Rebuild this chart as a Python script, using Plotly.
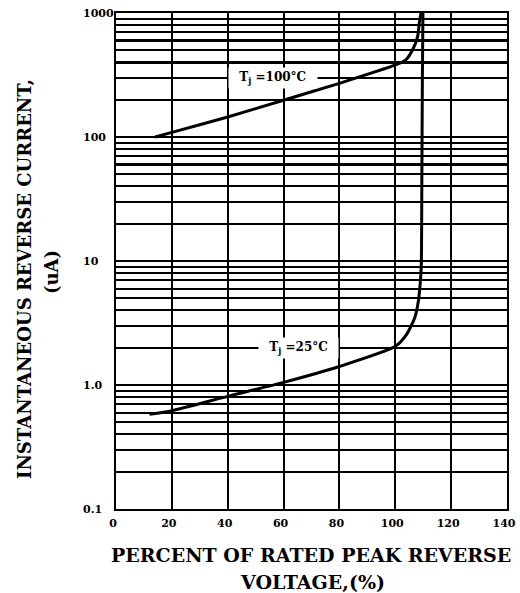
import numpy as np
import plotly.graph_objects as go

# ---- data ----
x_tick_vals = [0, 20, 40, 60, 80, 100, 120, 140]
x_tick_text = ["0", "20", "40", "60", "80", "100", "120", "140"]

y_label_vals = [1000, 100, 10, 1, 0.1]
y_label_text = ["1000", "100", "10", "1.0", "0.1"]

y_grid_vals = [m * 10.0 ** k for k in range(-1, 3) for m in range(1, 10)] + [1000]
y_thick_grid_vals = [60, 400, 600]

t100_x = [14, 20, 40, 60, 80, 100, 103.8, 106.2, 108.0, 108.6, 109.2]
t100_y = [100, 109, 145, 198, 271, 381, 419, 505, 646, 832, 1000]

t25_x = [12, 20, 40, 60, 80, 100, 104, 107, 108.3, 108.9, 109.3, 109.5, 109.7, 109.9]
t25_y = [0.58, 0.62, 0.81, 1.05, 1.41, 2.05, 2.55, 3.5, 4.8, 6.5, 9, 40, 300, 1000]

label_100 = "T<sub>j</sub> =100°C"
label_100_pos = (55.8, 300)
label_25 = "T<sub>j</sub> =25°C"
label_25_pos = (65.1, 2)

x_title_lines = ["PERCENT OF RATED PEAK REVERSE", "VOLTAGE,(%)"]
y_title_lines = ["INSTANTANEOUS REVERSE CURRENT,", "(uA)"]

SERIF = "DejaVu Serif"

fig = go.Figure()
fig.add_trace(go.Scatter(x=t100_x, y=t100_y, mode="lines",
                         line=dict(color="black", width=3, shape="spline", smoothing=0.6),
                         hoverinfo="skip", showlegend=False))
fig.add_trace(go.Scatter(x=t25_x, y=t25_y, mode="lines", yaxis="y2",
                         line=dict(color="black", width=3, shape="spline", smoothing=0.6),
                         hoverinfo="skip", showlegend=False))

fig.update_layout(
    width=520, height=593,
    margin=dict(l=116, r=13, t=13, b=84, autoexpand=False),
    paper_bgcolor="white", plot_bgcolor="white",
    font=dict(family=SERIF, color="black", size=11, weight="bold"),
    xaxis=dict(range=[0, 140], tickvals=x_tick_vals, ticktext=x_tick_text,
               showgrid=True, gridcolor="black", gridwidth=1.8, automargin=False,
               showline=True, linecolor="black", linewidth=2, mirror=True,
               ticks="", ticklabelstandoff=3, ticklabelshift=-3,
               tickfont=dict(family=SERIF, size=11, weight="bold"),
               zeroline=False, fixedrange=True),
    yaxis=dict(type="log", range=[-1, 3], tickvals=y_grid_vals, automargin=False,
               showticklabels=False, showgrid=True, gridcolor="black", gridwidth=1.6,
               showline=True, linecolor="black", linewidth=2, mirror=True,
               ticks="", zeroline=False, fixedrange=True),
    yaxis2=dict(type="log", range=[-1, 3], overlaying="y", tickvals=y_thick_grid_vals,
                automargin=False,
                showticklabels=False, showgrid=True, gridcolor="black", gridwidth=2.6,
                showline=False, ticks="", zeroline=False, fixedrange=True),
)

ann = []
for v, t in zip(y_label_vals, y_label_text):
    ann.append(dict(xref="paper", yref="y", x=0, y=np.log10(v), text=t,
                    xanchor="left", yanchor="middle", xshift=-35, showarrow=False,
                    font=dict(family=SERIF, size=11, weight="bold")))
for txt, (lx, ly) in [(label_100, label_100_pos), (label_25, label_25_pos)]:
    ann.append(dict(xref="x", yref="y", x=lx, y=np.log10(ly), yshift=0, xshift=1,
                    text="\u00a0\u00a0" + txt + "\u00a0\u00a0", showarrow=False,
                    bgcolor="white", borderpad=2,
                    font=dict(family=SERIF, size=12, weight="bold")))
for txt, dy, dx in zip(x_title_lines, [-46, -73], [-1, 1]):
    ann.append(dict(xref="paper", yref="paper", x=0.5, y=0, yshift=dy, xshift=dx,
                    xanchor="center", yanchor="middle", text=txt, showarrow=False,
                    font=dict(family=SERIF, size=19, weight="bold")))
for txt, dx, dy in zip(y_title_lines, [-92, -65], [-18, -11]):
    ann.append(dict(xref="paper", yref="paper", x=0, y=0.5, xshift=dx, yshift=dy,
                    xanchor="center", yanchor="middle", text=txt, textangle=-90,
                    showarrow=False, font=dict(family=SERIF, size=18, weight="bold")))
fig.update_layout(annotations=ann)

fig.write_html("out.html", config={"displayModeBar": False},
               post_script="document.body.style.margin='0px';document.body.style.overflow='hidden';")
